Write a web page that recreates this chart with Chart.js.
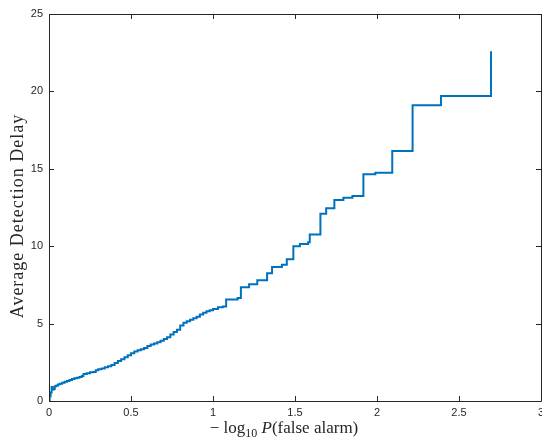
<!DOCTYPE html>
<html>
<head>
<meta charset="utf-8">
<script src="https://cdn.jsdelivr.net/npm/chart.js@4/dist/chart.umd.min.js"></script>
<style>
  html, body { margin: 0; padding: 0; background: #fff; }
  #wrap { width: 542px; height: 439px; position: relative; }
</style>
</head>
<body>
<div id="wrap"><canvas id="delay-chart"></canvas></div>
<script>
// stairs: x where the delay jumps, y the new delay value
var falseAlarm = [0, 0.004, 0.01, 0.016, 0.022, 0.03, 0.035, 0.045, 0.055, 0.065, 0.08, 0.095,
    0.11, 0.125, 0.14, 0.155, 0.17, 0.185, 0.2, 0.21, 0.23, 0.25, 0.27, 0.285, 0.3, 0.32, 0.34,
    0.36, 0.38, 0.4, 0.42, 0.44, 0.46, 0.48, 0.5, 0.52, 0.54, 0.56, 0.58, 0.6, 0.62, 0.64, 0.66,
    0.68, 0.7, 0.72, 0.74, 0.76, 0.78, 0.8, 0.82, 0.84, 0.86, 0.88, 0.9, 0.92, 0.94, 0.96, 0.98,
    1.0, 1.03, 1.06, 1.08, 1.15, 1.17, 1.22, 1.27, 1.33, 1.36, 1.42, 1.45, 1.49, 1.53, 1.58,
    1.59, 1.655, 1.69, 1.74, 1.795, 1.85, 1.917, 1.99, 2.093, 2.217, 2.39, 2.695];
var detectionDelay = [0, 0.3, 0.55, 0.9, 0.75, 0.78, 0.95, 1.0, 1.07, 1.12, 1.18, 1.24,
    1.3, 1.36, 1.42, 1.47, 1.5, 1.55, 1.62, 1.75, 1.8, 1.85, 1.88, 1.98, 2.05, 2.1, 2.18,
    2.25, 2.32, 2.45, 2.58, 2.7, 2.82, 2.95, 3.08, 3.2, 3.28, 3.35, 3.43, 3.55, 3.65, 3.72, 3.8,
    3.9, 4.0, 4.12, 4.3, 4.45, 4.6, 4.88, 5.05, 5.15, 5.25, 5.35, 5.45, 5.58, 5.7, 5.8, 5.87,
    5.95, 6.05, 6.1, 6.55, 6.65, 7.35, 7.55, 7.8, 8.25, 8.65, 8.8, 9.15, 10.0, 10.15, 10.25,
    10.75, 12.1, 12.45, 12.98, 13.13, 13.24, 14.65, 14.75, 16.15, 19.1, 19.7, 22.6];

var xTicks = [0, 0.5, 1, 1.5, 2, 2.5, 3];
var yTicks = [0, 5, 10, 15, 20, 25];

var axisColor = '#262626';

function buildPoints() {
    var pts = [];
    for (var i = 0; i < falseAlarm.length; i++) {
        pts.push({ x: falseAlarm[i], y: detectionDelay[i] });
    }
    return pts;
}

// box round the plot with ticks pointing inwards on all four sides
var boxPlugin = {
    id: 'matlabBox',
    afterDatasetsDraw: function(chart) {
        var ctx = chart.ctx;
        var a = chart.chartArea;
        var xs = chart.scales.x, ys = chart.scales.y;
        var len = 5;
        ctx.save();
        ctx.strokeStyle = axisColor;
        ctx.lineWidth = 1;
        ctx.beginPath();
        ctx.rect(Math.round(a.left) + 0.5, Math.round(a.top) + 0.5,
                 Math.round(a.right - a.left), Math.round(a.bottom - a.top));
        xTicks.forEach(function(t) {
            var px = Math.round(xs.getPixelForValue(t)) + 0.5;
            ctx.moveTo(px, a.bottom); ctx.lineTo(px, a.bottom - len);
            ctx.moveTo(px, a.top); ctx.lineTo(px, a.top + len);
        });
        yTicks.forEach(function(t) {
            var py = Math.round(ys.getPixelForValue(t)) + 0.5;
            ctx.moveTo(a.left, py); ctx.lineTo(a.left + len, py);
            ctx.moveTo(a.right, py); ctx.lineTo(a.right - len, py);
        });
        ctx.stroke();
        ctx.restore();
    }
};

// axis titles in serif, the x one with a subscript and italic P
var titlePlugin = {
    id: 'axisTitles',
    afterDraw: function(chart) {
        var ctx = chart.ctx;
        var a = chart.chartArea;
        ctx.save();
        ctx.fillStyle = axisColor;
        ctx.textBaseline = 'alphabetic';

        ctx.save();
        ctx.translate(23, 216);
        ctx.rotate(-Math.PI / 2);
        ctx.font = '18px "Liberation Serif"';
        ctx.letterSpacing = '1px';
        ctx.textAlign = 'center';
        ctx.fillText('Average Detection Delay', 0, 0);
        ctx.restore();

        var parts = [
            { text: '\u2212 log', font: '17px "Liberation Serif"', dy: 0 },
            { text: '10', font: '12px "Liberation Serif"', dy: 4 },
            { text: ' ', font: '17px "Liberation Serif"', dy: 0 },
            { text: 'P', font: 'italic 17px "Liberation Serif"', dy: 0 },
            { text: '(false alarm)', font: '17px "Liberation Serif"', dy: 0 }
        ];
        var total = 0;
        parts.forEach(function(p) { ctx.font = p.font; p.w = ctx.measureText(p.text).width; total += p.w; });
        var x = 284 - total / 2;
        var base = 433;
        ctx.textAlign = 'left';
        parts.forEach(function(p) {
            ctx.font = p.font;
            ctx.fillText(p.text, x, base + p.dy);
            x += p.w;
        });
        ctx.restore();
    }
};

var ctx = document.getElementById('delay-chart');

var delayChart = new Chart(ctx, {
    type: 'line',
    data: {
        datasets: [{
            data: buildPoints(),
            borderColor: '#0072BD',
            borderWidth: 2,
            stepped: 'before',
            pointRadius: 0,
            fill: false
        }]
    },
    options: {
        responsive: true,
        maintainAspectRatio: false,
        animation: false,
        layout: { padding: { top: 14, right: 1, left: 0, bottom: 0 } },
        plugins: {
            legend: { display: false },
            tooltip: { enabled: false }
        },
        scales: {
            x: {
                type: 'linear',
                min: 0,
                max: 3,
                grid: { display: false, drawTicks: false },
                border: { display: false },
                afterBuildTicks: function(scale) {
                    scale.ticks = xTicks.map(function(v) { return { value: v }; });
                },
                afterFit: function(scale) {
                    scale.height = 38;
                    scale.paddingLeft = 0;
                    scale.paddingRight = 0;
                },
                ticks: {
                    padding: 5,
                    color: axisColor,
                    maxRotation: 0,
                    font: { family: '"Liberation Sans"', size: 11 },
                    callback: function(v) { return String(v); }
                }
            },
            y: {
                type: 'linear',
                min: 0,
                max: 25,
                grid: { display: false, drawTicks: false },
                border: { display: false },
                afterBuildTicks: function(scale) {
                    scale.ticks = yTicks.map(function(v) { return { value: v }; });
                },
                afterFit: function(scale) {
                    scale.width = 49;
                    scale.paddingTop = 0;
                    scale.paddingBottom = 0;
                },
                ticks: {
                    padding: 6,
                    color: axisColor,
                    font: { family: '"Liberation Sans"', size: 11 },
                    callback: function(v) { return String(v); }
                }
            }
        }
    },
    plugins: [boxPlugin, titlePlugin]
});
</script>
</body>
</html>
